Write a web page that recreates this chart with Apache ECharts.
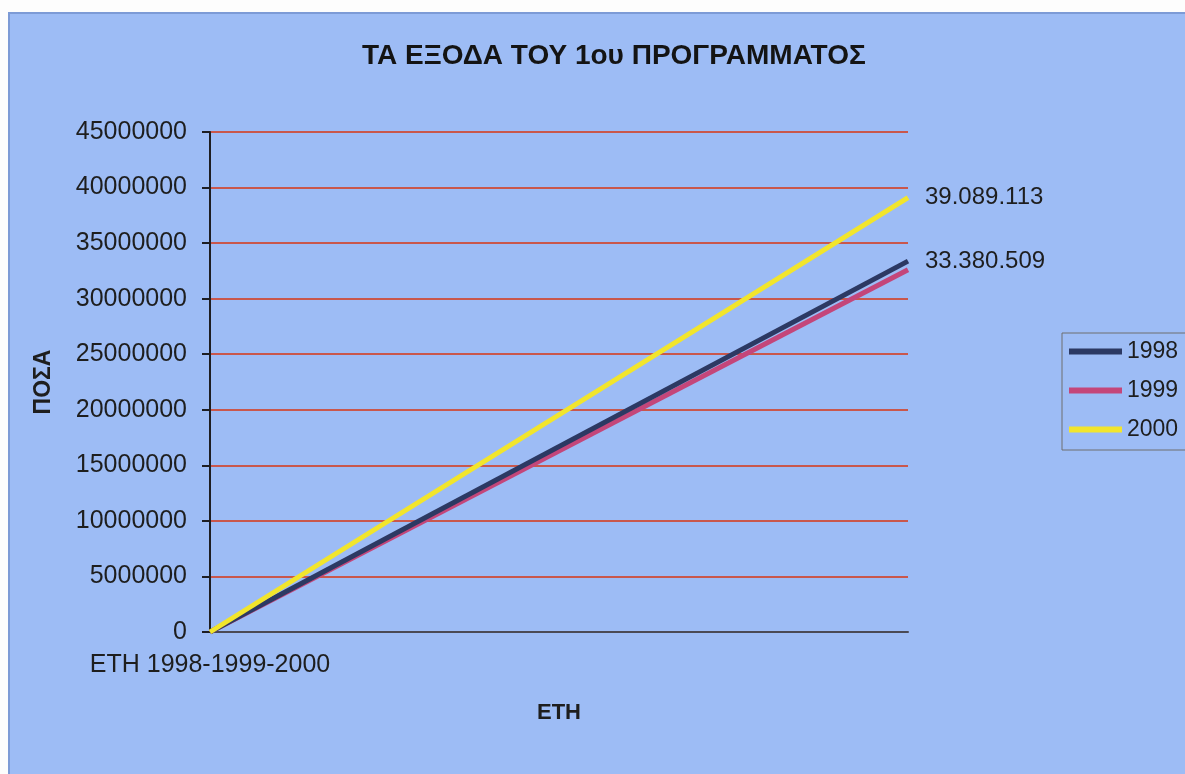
<!DOCTYPE html>
<html>
<head>
<meta charset="utf-8">
<title>ΤΑ ΕΞΟΔΑ ΤΟΥ 1ου ΠΡΟΓΡΑΜΜΑΤΟΣ</title>
<script src="https://cdn.jsdelivr.net/npm/echarts@6/dist/echarts.min.js"></script>
<style>
  html, body { margin: 0; padding: 0; background: #fdfdfd; }
  #chart { width: 1185px; height: 774px; }
</style>
</head>
<body>
<div id="chart"></div>
<script>
// data
var categories = ["ΕΤΗ 1998-1999-2000", ""];
var years = ["1998", "1999", "2000"];
var values1998 = [0, 33380509];
var values1999 = [0, 32600000];
var values2000 = [0, 39089113];
var yTicks = [0, 45000000, 5000000]; // min, max, step

var font = "'Liberation Sans', Arial, sans-serif";

function dotted(v) {
  return String(v).replace(/\B(?=(\d{3})+(?!\d))/g, ".");
}

// number written after the last point of the line
function lastValue(show) {
  return {
    show: show,
    distance: 17,
    color: "#1e1e1e",
    fontSize: 24,
    fontFamily: font,
    formatter: function (p) {
      return dotted(p.value);
    }
  };
}

var myChart = echarts.init(document.getElementById("chart"));

var option = {
  animation: false,
  backgroundColor: "transparent",
  graphic: [
    {
      type: "rect",
      z: -10,
      silent: true,
      shape: { x: 9, y: 13, width: 1190, height: 775 },
      style: { fill: "#9dbcf5", stroke: "#7d9bd6", lineWidth: 2 }
    }
  ],
  title: {
    text: "ΤΑ ΕΞΟΔΑ ΤΟΥ 1ου ΠΡΟΓΡΑΜΜΑΤΟΣ",
    left: 357,
    top: 37,
    textStyle: {
      color: "#141414",
      fontSize: 28,
      fontWeight: "bold",
      fontFamily: font
    }
  },
  legend: {
    orient: "vertical",
    left: 1062,
    top: 333,
    data: years,
    icon: "rect",
    itemWidth: 53,
    itemHeight: 6,
    itemGap: 16,
    padding: [7, 30, 9, 7],
    borderColor: "#6f6f6f",
    borderWidth: 1,
    textStyle: { color: "#1e1e1e", fontSize: 23, fontFamily: font }
  },
  grid: { left: 210, right: 277, top: 132, bottom: 142 },
  xAxis: {
    type: "category",
    data: categories,
    boundaryGap: false,
    name: "ΕΤΗ",
    nameLocation: "middle",
    nameGap: 70,
    nameTextStyle: {
      color: "#1e1e1e",
      fontSize: 22,
      fontWeight: "bold",
      fontFamily: font
    },
    axisLine: { lineStyle: { color: "#4a4a55", width: 2 } },
    axisTick: { show: false },
    axisLabel: {
      margin: 21,
      color: "#1e1e1e",
      fontSize: 25,
      fontFamily: font,
      align: "center"
    },
    splitLine: { show: false }
  },
  yAxis: {
    type: "value",
    min: yTicks[0],
    max: yTicks[1],
    interval: yTicks[2],
    name: "ΠΟΣΑ",
    nameLocation: "middle",
    nameGap: 155,
    nameRotate: 90,
    nameTextStyle: {
      color: "#1e1e1e",
      fontSize: 23,
      fontWeight: "bold",
      fontFamily: font
    },
    axisLine: { show: true, lineStyle: { color: "#1e1e22", width: 2 } },
    axisTick: { show: true, length: 8, lineStyle: { color: "#1e1e22", width: 2 } },
    axisLabel: {
      margin: 23,
      color: "#1e1e1e",
      fontSize: 25,
      fontFamily: font,
      formatter: function (v) { return String(v); }
    },
    splitLine: { lineStyle: { color: "#c9574c", width: 2 } }
  },
  series: [
    {
      name: years[0],
      type: "line",
      data: values1998,
      symbol: "none",
      lineStyle: { color: "#2c3963", width: 5 },
      itemStyle: { color: "#2c3963" },
      endLabel: lastValue(true)
    },
    {
      name: years[1],
      type: "line",
      data: values1999,
      symbol: "none",
      lineStyle: { color: "#c4467a", width: 5 },
      itemStyle: { color: "#c4467a" },
      endLabel: lastValue(false),
      z: 1
    },
    {
      name: years[2],
      type: "line",
      data: values2000,
      symbol: "none",
      lineStyle: { color: "#f2e52c", width: 5 },
      itemStyle: { color: "#f2e52c" },
      endLabel: lastValue(true)
    }
  ]
};

myChart.setOption(option);
</script>
</body>
</html>
